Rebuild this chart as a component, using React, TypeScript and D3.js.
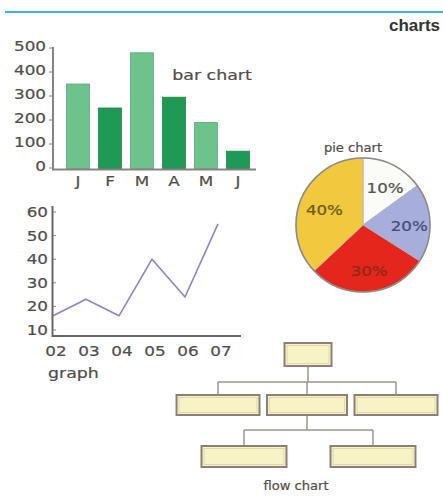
import * as d3 from "d3";

const barMonths = ["J", "F", "M", "A", "M", "J"];
const barValues = [350, 250, 480, 295, 190, 70];
const barTicks = [0, 100, 200, 300, 400, 500];
const barColors = ["#6cc48c", "#1f9a54", "#6cc48c", "#1f9a54", "#6cc48c", "#1f9a54"];

const graphYears = ["02", "03", "04", "05", "06", "07"];
const graphValues = [16, 23, 16, 40, 24, 55];
const graphTicks = [10, 20, 30, 40, 50, 60];

// printed labels; slice sizes as drawn in the picture
const pieLabels = ["10%", "20%", "30%", "40%"];
const pieValues = [15, 19, 29, 37];
const pieColors = ["#fbfbf8", "#a8aedb", "#e4261c", "#f1c93c"];
const pieTextColors = ["#555555", "#464c78", "#8e2a14", "#6a5a1c"];

// flow chart: one root, three children, two grandchildren under the middle one
const flowLevel1 = ["a", "b", "c"];
const flowLevel2 = ["d", "e"];

const font = "'DejaVu Sans', sans-serif";
const txt = "#524c4c";

export default function App() {
  // bar chart
  const bx = d3
    .scaleBand<number>()
    .domain(d3.range(barValues.length))
    .range([62, 254])
    .paddingInner(0.28)
    .paddingOuter(0.14);
  const by = d3.scaleLinear().domain([0, 500]).range([168, 48]);
  const barBase = 169;

  // line graph
  const gx = d3.scalePoint<string>().domain(graphYears).range([53, 218]);
  const gy = d3.scaleLinear().domain([10, 60]).range([330, 212]);
  const line = d3
    .line<number>()
    .x((_d, i) => gx(graphYears[i]) as number)
    .y((d) => gy(d));

  // pie
  const pie = d3.pie<number>().sort(null).value((d) => d);
  const arcs = pie(pieValues);
  const r = 67;
  const arc = d3.arc<d3.PieArcDatum<number>>().innerRadius(0).outerRadius(r);
  const labelArc = d3
    .arc<d3.PieArcDatum<number>>()
    .innerRadius(r * 0.66)
    .outerRadius(r * 0.66);

  // flow chart
  const f1 = d3.scalePoint<string>().domain(flowLevel1).range([218, 396]);
  const f2 = d3.scalePoint<string>().domain(flowLevel2).range([244, 373]);
  const rootX = 308;
  const mid = f1("b") as number;
  const boxStroke = "#8c8076";
  const linkStroke = "#a0948c";
  const box = (cx: number, y: number, w: number, h: number, key: string) => (
    <g key={key}>
      <rect x={cx - w / 2} y={y} width={w} height={h} fill="#f7f3c4" stroke={boxStroke} strokeWidth={2} />
      <rect x={cx - w / 2 + 2.5} y={y + 2.5} width={w - 5} height={h - 5} fill="none" stroke="#d8d0b0" strokeWidth={0.8} />
    </g>
  );

  const heavy = { stroke: txt, strokeWidth: 0.2 };

  return (
    <svg
      width={443}
      height={497}
      style={{ position: "absolute", left: 0, top: 0, background: "#ffffff" }}
      fontFamily={font}
    >
      <line x1={5} x2={443} y1={12} y2={12} stroke="#3ab7e6" strokeWidth={2} />
      <text x={440} y={31} textAnchor="end" fontFamily="'Liberation Sans', Arial, sans-serif" fontWeight="bold" fontSize={17} fill="#333">
        charts
      </text>

      {/* bar chart */}
      <g>
        {barValues.map((v, i) => (
          <rect
            key={i}
            x={bx(i)}
            y={by(v)}
            width={bx.bandwidth()}
            height={barBase - by(v)}
            fill={barColors[i]}
            stroke={d3.color(barColors[i])!.darker(0.4).toString()}
            strokeWidth={0.8}
          />
        ))}
        <line x1={53} x2={53} y1={47} y2={170} stroke="#8a8282" strokeWidth={2} />
        <line x1={52} x2={256} y1={169.5} y2={169.5} stroke="#8a8282" strokeWidth={2} />
        {barTicks.map((t) => (
          <g key={t}>
            <line x1={49} x2={53} y1={by(t)} y2={by(t)} stroke="#8a8282" strokeWidth={1} />
            <text
              transform={`translate(46,${by(t) - 2}) scale(1.2,1)`}
              dy="0.36em"
              textAnchor="end"
              fontSize={14}
              fill={txt}
              {...heavy}
            >
              {t}
            </text>
          </g>
        ))}
        {barMonths.map((m, i) => (
          <text
            key={i}
            transform={`translate(${(bx(i) as number) + bx.bandwidth() / 2},186) scale(1.2,1)`}
            textAnchor="middle"
            fontSize={14}
            fill={txt}
            {...heavy}
          >
            {m}
          </text>
        ))}
        <text transform="translate(212,80) scale(1.2,1)" textAnchor="middle" fontSize={14.5} fill={txt} {...heavy}>
          bar chart
        </text>
      </g>

      {/* line graph */}
      <g>
        <path d={line(graphValues) ?? ""} fill="none" stroke="#8b84c9" strokeWidth={1.6} strokeLinejoin="round" />
        <line x1={52.5} x2={52.5} y1={206} y2={337} stroke="#6e6462" strokeWidth={2} />
        <line x1={52} x2={241} y1={336} y2={336} stroke="#6e6462" strokeWidth={2} />
        {graphTicks.map((t) => (
          <g key={t}>
            <line x1={53} x2={56} y1={gy(t)} y2={gy(t)} stroke="#8a8282" strokeWidth={1} />
            <text
              transform={`translate(48,${gy(t)}) scale(1.2,1)`}
              dy="0.36em"
              textAnchor="end"
              fontSize={14}
              fill={txt}
              {...heavy}
            >
              {t}
            </text>
          </g>
        ))}
        {graphYears.map((y) => (
          <text
            key={y}
            transform={`translate(${(gx(y) as number) + 3},356) scale(1.2,1)`}
            textAnchor="middle"
            fontSize={14}
            fill={txt}
            {...heavy}
          >
            {y}
          </text>
        ))}
        <text transform="translate(48,378) scale(1.2,1)" fontSize={14.5} fill={txt} {...heavy}>
          graph
        </text>
      </g>

      {/* pie chart */}
      <g transform="translate(363,225)">
        {arcs.map((a, i) => (
          <path key={i} d={arc(a) ?? ""} fill={pieColors[i]} stroke="#b8b4b0" strokeWidth={0.8} />
        ))}
        <circle r={r} fill="none" stroke="#8e8a88" strokeWidth={1.6} />
        {arcs.map((a, i) => {
          const [cx, cy] = labelArc.centroid(a);
          return (
            <text
              key={i}
              transform={`translate(${cx + 2},${cy + 2}) scale(1.15,1)`}
              dy="0.36em"
              textAnchor="middle"
              fontSize={14.5}
              fill={pieTextColors[i]}
              stroke={pieTextColors[i]}
              strokeWidth={0.25}
            >
              {pieLabels[i]}
            </text>
          );
        })}
      </g>
      <text transform="translate(353,152) scale(1.05,1)" textAnchor="middle" fontSize={12.5} fill={txt} {...heavy}>
        pie chart
      </text>

      {/* flow chart */}
      <g fill="none" stroke={linkStroke} strokeWidth={1.5}>
        <line x1={rootX} x2={rootX} y1={366} y2={382} />
        <line x1={f1("a")} x2={f1("c")} y1={382} y2={382} />
        {flowLevel1.map((k) => (
          <line key={k} x1={f1(k)} x2={f1(k)} y1={382} y2={395} />
        ))}
        <line x1={mid} x2={mid} y1={415} y2={430} />
        <line x1={f2("d")} x2={f2("e")} y1={430} y2={430} />
        {flowLevel2.map((k) => (
          <line key={k} x1={f2(k)} x2={f2(k)} y1={430} y2={446} />
        ))}
      </g>
      {box(rootX, 343, 47, 23, "root")}
      {flowLevel1.map((k) => box(f1(k) as number, 395, k === "b" ? 80 : 83, 20, k))}
      {flowLevel2.map((k) => box(f2(k) as number, 446, 85, 21, k))}
      <text transform="translate(296,490) scale(1.05,1)" textAnchor="middle" fontSize={12.5} fill={txt} {...heavy}>
        flow chart
      </text>
    </svg>
  );
}
